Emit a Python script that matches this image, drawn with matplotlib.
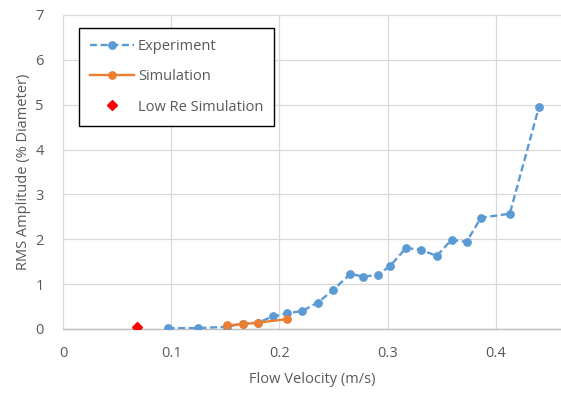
"""Recreate the RMS amplitude vs flow velocity chart."""

import matplotlib.pyplot as plt
from matplotlib.lines import Line2D

# Experimental measurements
exp_velocity = [0.0966, 0.1245, 0.152, 0.166, 0.180, 0.194, 0.207, 0.221,
                0.2356, 0.2497, 0.2656, 0.277, 0.2908, 0.3025, 0.3172,
                0.3313, 0.3454, 0.3592, 0.373, 0.3862, 0.4129, 0.4399]
exp_rms = [0.02, 0.02, 0.05, 0.12, 0.14, 0.28, 0.35, 0.40,
           0.59, 0.87, 1.23, 1.17, 1.20, 1.41, 1.81,
           1.76, 1.63, 1.99, 1.94, 2.48, 2.57, 4.95]

# Simulation results
sim_velocity = [0.152, 0.166, 0.180, 0.207]
sim_rms = [0.08, 0.11, 0.14, 0.22]

# Low Reynolds number simulation
low_re_velocity = [0.0685]
low_re_rms = [0.04]

x_ticks = [0, 0.1, 0.2, 0.3, 0.4]
y_ticks = [0, 1, 2, 3, 4, 5, 6, 7]

BLUE = '#5B9BD5'
ORANGE = '#ED7D31'
GRAY = '#595959'

plt.rcParams['font.family'] = ['Open Sans', 'DejaVu Sans']

fig = plt.figure(figsize=(5.61, 3.95), dpi=100)
# Plot area runs off the right edge of the image, like the original
ax = fig.add_axes([63 / 561, 66 / 395, 498 / 561, 314 / 395])

ax.plot(exp_velocity, exp_rms, color=BLUE, linestyle=(0, (3, 1.5)),
        linewidth=1.7, marker='o', markersize=5.3, zorder=3)
ax.plot(sim_velocity, sim_rms, color=ORANGE, linewidth=1.7,
        marker='o', markersize=5.3, zorder=4)
ax.plot(low_re_velocity, low_re_rms, color='red', linestyle='none',
        marker='D', markersize=5, zorder=5)

ax.set_xlim(0, 498 / 1082)
ax.set_ylim(0, 7)
ax.set_xticks(x_ticks)
ax.set_xticklabels(['0', '0.1', '0.2', '0.3', '0.4'])
ax.set_yticks(y_ticks)

ax.grid(True, color='#D9D9D9', linewidth=0.9)
ax.set_axisbelow(True)
for side in ['top', 'right', 'left']:
    ax.spines[side].set_visible(False)
ax.spines['bottom'].set_color('#BFBFBF')
ax.spines['bottom'].set_linewidth(1.0)
ax.tick_params(length=0, colors=GRAY, labelsize=10.5)
ax.tick_params(axis='x', pad=12)
ax.tick_params(axis='y', pad=14)

ax.set_xlabel('Flow Velocity (m/s)', color=GRAY, fontsize=10.5, labelpad=8)
ax.set_ylabel('RMS Amplitude (% Diameter)', color=GRAY, fontsize=10.5,
              labelpad=3)

# Legend with a plain black box
handles = [
    Line2D([], [], color=BLUE, linestyle=(0, (3, 1.5)), linewidth=1.7,
           marker='o', markersize=5.3),
    Line2D([], [], color=ORANGE, linewidth=1.7, marker='o', markersize=5.3),
    Line2D([], [], color='red', linestyle='none', marker='D', markersize=5),
]
legend = ax.legend(handles, ['Experiment', 'Simulation', 'Low Re Simulation'],
                   loc='upper left', bbox_to_anchor=(16 / 498, 301 / 314),
                   fancybox=False, edgecolor='black', framealpha=1,
                   fontsize=10.5, handlelength=3.0, labelspacing=1.05,
                   borderpad=0.75, handletextpad=0.3, borderaxespad=0)
legend.get_frame().set_linewidth(1.0)
for text in legend.get_texts():
    text.set_color(GRAY)

fig.savefig('out.png', dpi=100)
